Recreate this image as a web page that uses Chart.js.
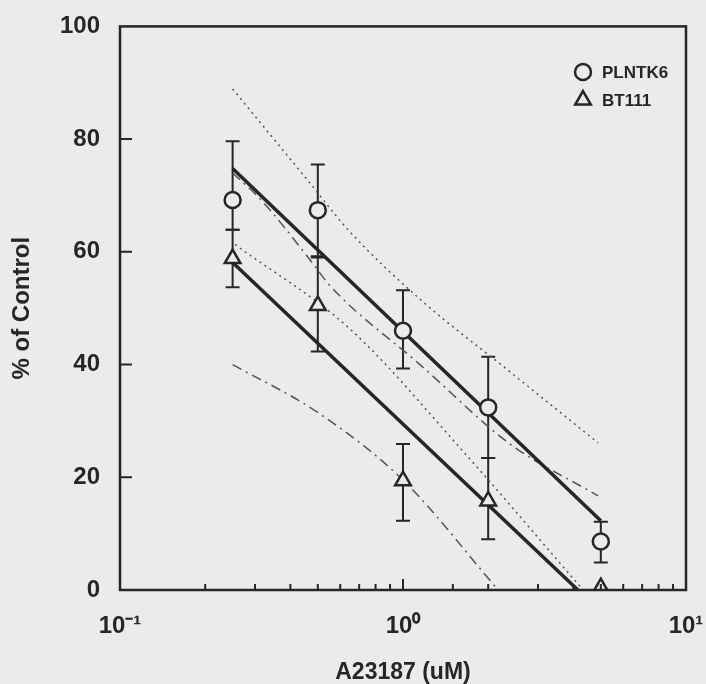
<!DOCTYPE html>
<html>
<head>
<meta charset="utf-8">
<script src="https://cdn.jsdelivr.net/npm/chart.js@4.4.0/dist/chart.umd.min.js"></script>
<style>
  html, body { margin: 0; padding: 0; background: #ebebea; }
  #wrap { width: 706px; height: 684px; }
</style>
</head>
<body>
<div id="wrap"><canvas id="doseChart" width="706" height="684"></canvas></div>
<script>
// A23187 doses (uM)
var doses = [0.25, 0.5, 1, 2, 5];

// PLNTK6 means and error bar ends
var plntkMean = [69.2, 67.4, 46.0, 32.4, 8.6];
var plntkHigh = [79.6, 75.5, 53.2, 41.4, 12.1];
var plntkLow = [63.9, 59.0, 39.3, 23.4, 4.9];

// BT111 means and error bar ends
var btMean = [58.8, 50.5, 19.4, 15.8, 0.4];
var btHigh = [63.9, 59.2, 25.9, 23.4, 0.4];
var btLow = [53.7, 42.3, 12.3, 9.0, 0.4];

// regression lines
var plntkFitX = [0.25, 5];
var plntkFitY = [74.8, 12.3];
var btFitX = [0.25, 4.15];
var btFitY = [58.1, 0];

// confidence bands
var plntkUpX = [0.25, 0.469, 0.64, 1.148, 2.39, 4.89];
var plntkUpY = [88.9, 72.2, 63.9, 51.6, 38.7, 26.1];
var plntkLoX = [0.255, 0.65, 1.63, 4.33];
var plntkLoY = [61.3, 46.3, 24.6, 0];
var btUpX = [0.25, 0.318, 0.469, 0.552, 1.148, 2.39, 4.89];
var btUpY = [74.0, 69.0, 58.6, 54.0, 40.0, 25.9, 16.7];
var btLoX = [0.25, 0.5, 1, 2.17];
var btLoY = [40.0, 31.5, 19.5, 0];

// axis ticks
var yTicks = [0, 20, 40, 60, 80, 100];
var xMajor = [0.1, 1, 10];
var xMajorLabels = ['10\u207B\u00B9', '10\u2070', '10\u00B9'];

var ink = '#262626';
var paper = '#ebebea';
var fontName = '"Liberation Sans", Arial, sans-serif';

function pts(xs, ys) {
  var out = [];
  for (var i = 0; i < xs.length; i++) out.push({ x: xs[i], y: ys[i] });
  return out;
}

function majorIndex(v) {
  for (var i = 0; i < xMajor.length; i++) {
    if (Math.abs(v - xMajor[i]) < xMajor[i] * 1e-6) return i;
  }
  return -1;
}

var framePlugin = {
  id: 'frame',
  beforeDatasetsDraw: function(chart) {
    var ctx = chart.ctx;
    var xs = chart.scales.x, ys = chart.scales.y;
    ctx.save();
    ctx.strokeStyle = ink;
    ctx.lineWidth = 2;
    var groups = [[plntkHigh, plntkLow], [btHigh, btLow]];
    groups.forEach(function(g) {
      for (var i = 0; i < doses.length; i++) {
        if (g[0][i] === g[1][i]) continue;
        var px = xs.getPixelForValue(doses[i]);
        var top = ys.getPixelForValue(g[0][i]);
        var bot = ys.getPixelForValue(g[1][i]);
        ctx.beginPath();
        ctx.moveTo(px, top); ctx.lineTo(px, bot);
        ctx.moveTo(px - 7, top); ctx.lineTo(px + 7, top);
        ctx.moveTo(px - 7, bot); ctx.lineTo(px + 7, bot);
        ctx.stroke();
      }
    });
    ctx.restore();
  },
  afterDatasetsDraw: function(chart) {
    var ctx = chart.ctx, a = chart.chartArea;
    var xs = chart.scales.x, ys = chart.scales.y;
    ctx.save();
    ctx.strokeStyle = ink;
    ctx.lineWidth = 2.5;
    ctx.strokeRect(a.left, a.top, a.right - a.left, a.bottom - a.top);

    // inward ticks
    ctx.lineWidth = 2;
    ctx.beginPath();
    yTicks.forEach(function(v) {
      if (v === 0 || v === 100) return;
      var py = ys.getPixelForValue(v);
      ctx.moveTo(a.left, py); ctx.lineTo(a.left + 12, py);
    });
    xs.ticks.forEach(function(t) {
      var px = xs.getPixelForValue(t.value);
      if (px <= a.left + 1 || px >= a.right - 1) return;
      var len = majorIndex(t.value) >= 0 ? 11 : 6;
      ctx.moveTo(px, a.bottom); ctx.lineTo(px, a.bottom - len);
    });
    ctx.stroke();

    // legend
    var lx = 583, ly = [72, 100];
    var styles = ['circle', 'triangle'];
    var radii = [8, 9];
    var names = ['PLNTK6', 'BT111'];
    ctx.lineWidth = 2.5;
    for (var i = 0; i < 2; i++) {
      ctx.fillStyle = paper;
      Chart.helpers.drawPoint(ctx, { pointStyle: styles[i], radius: radii[i], rotation: 0, borderWidth: 2.5 }, lx, ly[i]);
      ctx.fillStyle = ink;
      ctx.font = 'bold 17px ' + fontName;
      ctx.textBaseline = 'middle';
      ctx.textAlign = 'left';
      ctx.fillText(names[i], lx + 19, ly[i] + 1);
    }
    ctx.restore();
  }
};

function bandLine(label, xs, ys, dash) {
  return {
    label: label,
    data: pts(xs, ys),
    showLine: true,
    pointRadius: 0,
    borderWidth: 1.5,
    borderDash: dash,
    borderColor: '#555',
    cubicInterpolationMode: 'monotone'
  };
}

function fitLine(label, xs, ys) {
  return {
    label: label,
    data: pts(xs, ys),
    showLine: true,
    pointRadius: 0,
    borderWidth: 3.5,
    borderColor: ink
  };
}

var ctx = document.getElementById('doseChart').getContext('2d');
var doseChart = new Chart(ctx, {
  type: 'scatter',
  data: {
    datasets: [
      {
        label: 'PLNTK6',
        data: pts(doses, plntkMean),
        pointStyle: 'circle',
        pointRadius: 8,
        pointBorderWidth: 2.5,
        pointBackgroundColor: paper,
        pointBorderColor: ink
      },
      {
        label: 'BT111',
        data: pts(doses, btMean),
        pointStyle: 'triangle',
        pointRadius: 9,
        pointBorderWidth: 2.5,
        pointBackgroundColor: paper,
        pointBorderColor: ink
      },
      fitLine('PLNTK6 fit', plntkFitX, plntkFitY),
      fitLine('BT111 fit', btFitX, btFitY),
      bandLine('PLNTK6 upper', plntkUpX, plntkUpY, [2, 4]),
      bandLine('PLNTK6 lower', plntkLoX, plntkLoY, [2, 4]),
      bandLine('BT111 upper', btUpX, btUpY, [10, 5, 2, 5]),
      bandLine('BT111 lower', btLoX, btLoY, [10, 5, 2, 5])
    ]
  },
  options: {
    responsive: false,
    animation: false,
    layout: { padding: { left: 0, top: 22, right: 20, bottom: 0 } },
    plugins: { legend: { display: false }, tooltip: { enabled: false } },
    scales: {
      x: {
        type: 'logarithmic',
        min: 0.1,
        max: 10,
        grid: { display: false },
        border: { display: false },
        ticks: {
          autoSkip: false,
          maxRotation: 0,
          padding: 14,
          color: ink,
          font: { family: fontName, size: 24, weight: 'bold' },
          callback: function(v) {
            var i = majorIndex(v);
            return i >= 0 ? xMajorLabels[i] : '';
          }
        },
        title: {
          display: true,
          text: 'A23187 (uM)',
          color: ink,
          font: { family: fontName, size: 23, weight: 'bold', lineHeight: 1 },
          padding: { top: 0, bottom: 0 }
        },
        afterFit: function(scale) {
          scale.height = 94;
          scale.paddingLeft = 0;
          scale.paddingRight = 0;
        }
      },
      y: {
        min: 0,
        max: 100,
        grid: { display: false },
        border: { display: false },
        afterBuildTicks: function(scale) {
          scale.ticks = yTicks.map(function(v) { return { value: v }; });
        },
        ticks: {
          padding: 12,
          color: ink,
          font: { family: fontName, size: 24, weight: 'bold' }
        },
        title: {
          display: true,
          text: '% of Control',
          color: ink,
          font: { family: fontName, size: 24, weight: 'bold' },
          padding: { top: 8, bottom: 0 }
        },
        afterFit: function(scale) {
          scale.width = 120;
        }
      }
    }
  },
  plugins: [framePlugin]
});
</script>
</body>
</html>
